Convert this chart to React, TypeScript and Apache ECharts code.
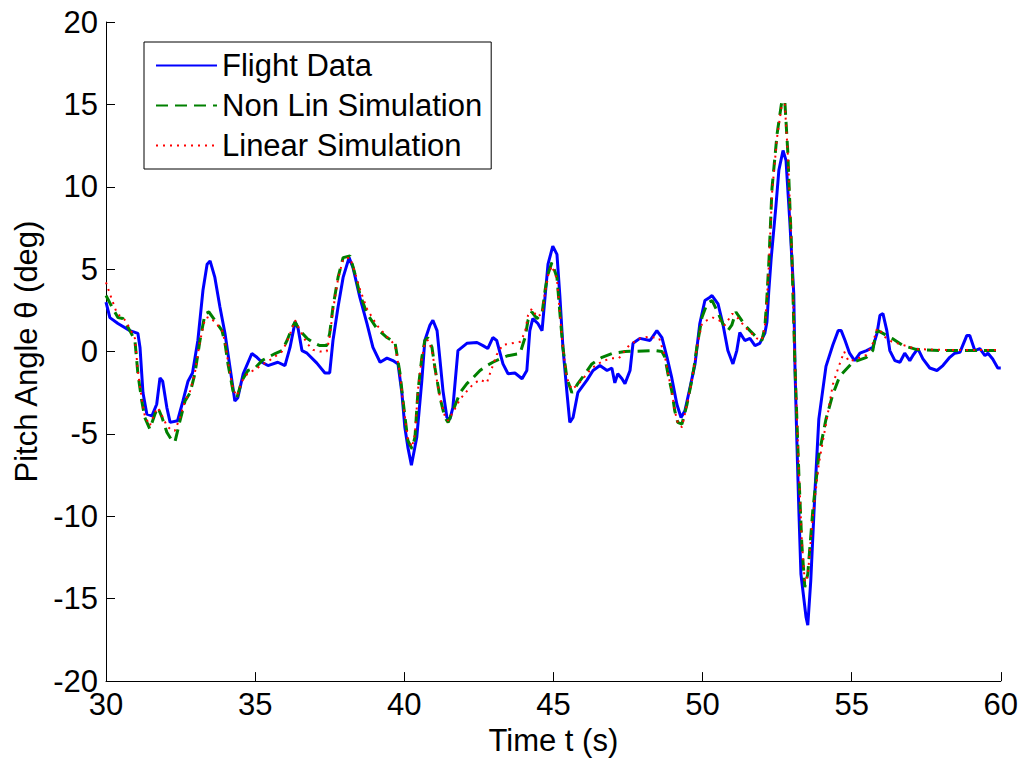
import React, { useEffect, useRef } from "react";
import * as echarts from "echarts";

const xTicks = { min: 30, max: 60, interval: 5 };
const yTicks = { min: -20, max: 20, interval: 5 };

const seriesNames = ["Flight Data", "Non Lin Simulation", "Linear Simulation"];

const flightT = [
  30.0, 30.13, 30.4, 30.8, 31.07, 31.14, 31.24, 31.37, 31.54, 31.7, 31.81, 31.9, 32.04, 32.15, 32.4, 32.58,
  32.75, 32.9, 33.08, 33.25, 33.39, 33.49, 33.65, 33.82, 33.99, 34.16, 34.32, 34.42, 34.6, 34.89, 35.06,
  35.23, 35.43, 35.76, 36.0, 36.17, 36.34, 36.44, 36.57, 36.74, 37.07, 37.34, 37.5, 37.61, 37.78, 37.95,
  38.15, 38.28, 38.51, 38.75, 38.95, 39.19, 39.42, 39.62, 39.79, 39.92, 40.02, 40.12, 40.24, 40.42, 40.59,
  40.69, 40.86, 40.96, 41.1, 41.2, 41.3, 41.43, 41.53, 41.63, 41.8, 42.1, 42.44, 42.64, 42.8, 42.97, 43.1,
  43.31, 43.48, 43.71, 43.95, 44.11, 44.21, 44.31, 44.48, 44.62, 44.72, 44.82, 44.98, 45.12, 45.22, 45.32,
  45.45, 45.55, 45.66, 45.82, 46.12, 46.33, 46.56, 46.8, 46.96, 47.06, 47.16, 47.3, 47.4, 47.57, 47.67,
  47.9, 48.24, 48.47, 48.64, 48.81, 48.97, 49.14, 49.28, 49.41, 49.58, 49.75, 49.91, 50.08, 50.25, 50.32,
  50.52, 50.68, 50.85, 51.02, 51.15, 51.25, 51.42, 51.59, 51.76, 51.92, 52.09, 52.16, 52.22, 52.3, 52.46,
  52.56, 52.7, 52.8, 52.93, 53.06, 53.1, 53.16, 53.23, 53.3, 53.47, 53.53, 53.63, 53.77, 53.9, 54.14,
  54.37, 54.55, 54.65, 54.78, 54.93, 55.1, 55.28, 55.5, 55.71, 55.85, 55.95, 56.05, 56.18, 56.28, 56.45,
  56.62, 56.78, 56.95, 57.05, 57.22, 57.39, 57.62, 57.86, 58.06, 58.29, 58.46, 58.63, 58.86, 58.96, 59.13,
  59.3, 59.47, 59.57, 59.73, 59.9, 60.0,
];
const flightTheta = [
  3.0, 2.06, 1.7, 1.27, 1.1, 0.25, -2.5, -3.8, -3.9, -3.2, -1.6, -1.8, -3.4, -4.3, -4.2, -3.0,
  -1.8, -1.3, 0.67, 3.7, 5.3, 5.5, 4.5, 2.7, 1.1, -1.0, -3.0, -2.8, -1.35, -0.12, -0.35,
  -0.65, -0.85, -0.65, -0.85, 0.25, 1.8, 1.4, 0.06, -0.1, -0.7, -1.3, -1.3, 0.67, 2.7, 4.5,
  5.7, 5.1, 3.3, 1.7, 0.25, -0.65, -0.4, -0.55, -0.75, -2.5, -4.6, -5.8, -6.9, -5.2, -1.75,
  0.67, 1.6, 1.9, 1.27, -0.55, -2.4, -4.0, -4.1, -3.4, 0.06, 0.5, 0.55, 0.36, 0.18, 0.85, 0.67,
  -0.75, -1.35, -1.3, -1.65, -1.15, 1.27, 2.0, 1.7, 1.27, 3.3, 5.3, 6.4, 5.9, 3.3, 0.25,
  -2.4, -4.3, -4.0, -2.5, -1.75, -1.15, -0.85, -1.15, -1.0, -1.9, -1.35, -1.65, -1.95, -1.15, 0.5,
  0.8, 0.67, 1.27, 0.85, -0.35, -1.6, -3.2, -4.0, -3.6, -2.2, -0.75, 1.7, 3.1, 3.3, 3.4,
  2.9, 1.7, 0.06, -0.75, 0.06, 1.15, 0.67, 0.8, 0.36, 0.5, 1.1, 1.8, 3.6, 5.6, 8.8,
  11.0, 12.2, 11.6, 7.8, 3.5, -0.9, -5.2, -9.6, -13.5, -16.1, -16.6, -13.9, -8.5, -4.1, -0.9,
  0.4, 1.27, 1.27, 0.67, -0.1, -0.55, -0.1, 0.06, 0.25, 1.1, 2.2, 2.3, 1.27, 0.06, -0.55,
  -0.65, -0.1, -0.55, -0.25, 0.18, -0.45, -1.0, -1.15, -0.85, -0.35, -0.1, -0.05, 0.97, 0.97, 0.06,
  0.18, -0.25, -0.1, -0.45, -1.0, -1.0,
];

const nonLinT = [
  30.0, 30.2, 30.4, 30.57, 30.8, 30.97, 31.07, 31.2, 31.3, 31.47, 31.64, 31.74, 31.88, 32.04, 32.21, 32.31,
  32.48, 32.65, 32.82, 32.98, 33.15, 33.32, 33.45, 33.65, 33.89, 33.99, 34.09, 34.26, 34.39, 34.56, 34.76,
  35.0, 35.23, 35.43, 35.67, 35.9, 36.07, 36.24, 36.34, 36.5, 36.74, 36.94, 37.17, 37.4, 37.5, 37.61,
  37.78, 37.95, 38.18, 38.35, 38.51, 38.75, 39.08, 39.42, 39.69, 39.86, 39.96, 40.12, 40.26, 40.36, 40.46,
  40.59, 40.69, 40.79, 40.93, 41.03, 41.2, 41.36, 41.47, 41.63, 41.87, 42.1, 42.3, 42.54, 42.77, 42.97,
  43.2, 43.48, 43.88, 44.05, 44.15, 44.28, 44.45, 44.62, 44.72, 44.82, 44.95, 45.12, 45.22, 45.32, 45.45,
  45.62, 45.82, 46.06, 46.29, 46.63, 46.96, 47.4, 48.4, 48.64, 48.74, 48.84, 48.97, 49.07, 49.17, 49.31,
  49.48, 49.64, 49.72, 49.81, 49.98, 50.15, 50.32, 50.48, 50.68, 50.85, 50.98, 51.12, 51.25, 51.42, 51.59,
  51.82, 51.99, 52.09, 52.16, 52.23, 52.33, 52.5, 52.66, 52.76, 52.86, 53.0, 53.1, 53.23, 53.33, 53.43,
  53.53, 53.7, 53.9, 54.14, 54.37, 54.6, 55.04, 55.5, 55.71, 55.81, 55.88, 56.05, 56.35, 56.72, 57.19,
  57.96, 60.0,
];
const nonLinTheta = [
  3.4, 2.7, 2.06, 2.0, 1.27, 0.67, -1.35, -3.0, -4.0, -4.7, -3.8, -3.4, -4.0, -4.9, -5.4, -5.5,
  -4.2, -3.0, -2.5, -1.35, 0.67, 2.3, 2.4, 1.9, 1.27, 0.5, -0.75, -2.4, -2.8, -1.75, -1.15,
  -1.0, -0.55, -0.35, -0.12, 0.06, 0.67, 1.45, 1.8, 1.27, 0.8, 0.55, 0.36, 0.36, 1.1, 2.7,
  4.5, 5.7, 5.8, 4.7, 3.5, 2.3, 1.4, 0.85, 0.55, -1.35, -3.0, -5.4, -5.9, -5.2, -2.4,
  -0.35, 0.67, 0.85, 0.25, -1.0, -2.8, -4.0, -4.3, -3.6, -2.5, -1.95, -1.6, -1.15, -0.85, -0.65,
  -0.45, -0.25, -0.12, 0.85, 1.9, 2.4, 2.0, 2.3, 3.7, 4.7, 5.4, 4.5, 2.3, 0.25, -1.6,
  -2.5, -1.95, -1.35, -0.75, -0.35, -0.12, 0.0, 0.06, 0.0, -0.35, -1.35, -2.4, -3.6, -4.3, -4.4,
  -3.2, -1.75, -0.9, 0.25, 2.06, 2.9, 3.1, 2.5, 1.7, 1.27, 1.6, 2.4, 2.06, 1.6, 1.27,
  0.85, 0.67, 1.45, 3.3, 5.6, 9.9, 13.2, 15.2, 15.2, 12.1, 5.6, -0.9, -7.4, -11.7, -14.3,
  -13.5, -9.6, -6.3, -4.1, -2.6, -1.5, -0.65, -0.35, 0.06, 1.1, 1.27, 1.1, 0.8, 0.36, 0.12,
  0.06, 0.06,
];

const linearT = [
  30.0, 30.13, 30.37, 30.6, 30.8, 30.97, 31.07, 31.2, 31.3, 31.47, 31.64, 31.74, 31.88, 32.04, 32.21, 32.31,
  32.48, 32.65, 32.82, 32.98, 33.15, 33.32, 33.45, 33.65, 33.89, 33.99, 34.09, 34.26, 34.39, 34.56, 34.76,
  35.0, 35.23, 35.43, 35.67, 35.9, 36.07, 36.24, 36.34, 36.5, 36.74, 36.94, 37.17, 37.4, 37.5, 37.61,
  37.78, 37.95, 38.18, 38.35, 38.51, 38.75, 39.08, 39.42, 39.69, 39.86, 39.96, 40.12, 40.26, 40.36, 40.46,
  40.59, 40.69, 40.79, 40.93, 41.03, 41.2, 41.36, 41.47, 41.63, 41.87, 42.1, 42.3, 42.54, 42.77, 42.9,
  43.1, 43.3, 43.6, 43.9, 44.05, 44.15, 44.28, 44.45, 44.62, 44.72, 44.82, 44.95, 45.12, 45.22, 45.32,
  45.45, 45.62, 45.82, 46.06, 46.29, 46.63, 46.96, 47.2, 47.55, 47.9, 48.2, 48.55, 48.74, 48.84, 48.97,
  49.07, 49.17, 49.31, 49.48, 49.64, 49.81, 49.98, 50.15, 50.35, 50.55, 50.75, 51.0, 51.2, 51.42, 51.59,
  51.82, 51.99, 52.09, 52.16, 52.23, 52.33, 52.5, 52.66, 52.76, 52.86, 53.0, 53.1, 53.23, 53.33, 53.43,
  53.53, 53.7, 53.9, 54.14, 54.37, 54.55, 54.75, 54.9, 55.1, 55.5, 55.71, 55.85, 55.95, 56.1, 56.35,
  56.72, 57.19, 58.0, 60.0,
];
const linearTheta = [
  4.2, 3.5, 2.3, 2.0, 1.4, 0.8, -1.2, -2.9, -3.9, -4.5, -3.7, -3.4, -3.9, -4.5, -4.8, -4.8,
  -4.0, -3.0, -2.4, -1.3, 0.6, 2.0, 2.1, 1.8, 1.3, 0.6, -0.6, -2.3, -2.7, -1.8, -1.3,
  -1.1, -0.8, -0.6, -0.3, 0.0, 0.6, 1.4, 1.9, 1.3, 0.5, 0.1, 0.0, 0.0, 0.9, 2.5,
  4.4, 5.6, 5.7, 4.8, 3.8, 2.6, 1.6, 0.9, 0.4, -1.4, -3.1, -5.3, -5.8, -5.0, -2.3,
  -0.4, 0.5, 0.7, 0.1, -1.1, -2.8, -3.9, -4.2, -3.7, -2.9, -2.4, -2.0, -1.7, -1.9, -1.2,
  -0.2, 0.4, 0.5, 0.6, 1.2, 2.2, 2.6, 2.1, 2.3, 3.6, 4.6, 5.2, 4.4, 2.3, 0.2,
  -1.6, -2.3, -2.0, -1.5, -1.0, -0.6, -0.4, -0.4, 0.4, 0.8, 0.9, 0.8, -0.3, -1.3, -2.4,
  -3.6, -4.3, -4.6, -3.2, -1.8, 0.2, 1.7, 1.9, 2.06, 1.9, 1.6, 2.3, 2.0, 1.5, 1.2,
  0.8, 0.7, 1.5, 3.2, 5.4, 9.6, 13.0, 15.0, 15.0, 12.0, 5.8, -0.7, -7.2, -11.5, -14.0,
  -13.6, -10.0, -6.8, -4.4, -2.0, -1.0, 0.0, -0.6, -0.5, -0.2, 0.5, 1.4, 1.3, 0.9, 0.6,
  0.4, 0.15, 0.1, 0.1,
];

const pairs = (t: number[], v: number[]) => t.map((x, i) => [x, v[i]]);

const FONT = "'Liberation Sans', Arial, Helvetica, sans-serif";
const FS = 31;

export default function App() {
  const ref = useRef<HTMLDivElement>(null);
  useEffect(() => {
    if (!ref.current) return;
    const chart = echarts.init(ref.current, undefined, { renderer: "svg" });
    const axisCommon = {
      axisLine: { show: true, onZero: false, lineStyle: { color: "#000", width: 1 } },
      axisTick: { show: true, inside: true, length: 9, lineStyle: { color: "#000", width: 1 } },
      splitLine: { show: false },
      axisLabel: { color: "#000", fontSize: FS, fontFamily: FONT, margin: 8 },
      nameTextStyle: { color: "#000", fontSize: FS, fontFamily: FONT },
    };
    chart.setOption({
      animation: false,
      backgroundColor: "#fff",
      grid: { left: 106, right: 20, top: 22, bottom: 79, containLabel: false },
      xAxis: {
        type: "value",
        min: xTicks.min,
        max: xTicks.max,
        interval: xTicks.interval,
        name: "Time t (s)",
        nameLocation: "middle",
        nameGap: 40,
        ...axisCommon,
      },
      yAxis: {
        type: "value",
        min: yTicks.min,
        max: yTicks.max,
        interval: yTicks.interval,
        name: "Pitch Angle θ (deg)",
        nameLocation: "middle",
        nameGap: 60,
        ...axisCommon,
      },
      legend: {
        show: true,
        orient: "vertical",
        left: 144,
        top: 42,
        data: seriesNames,
        itemWidth: 61,
        itemHeight: 28,
        itemGap: 9,
        padding: [8, 9, 8, 11],
        borderColor: "#000",
        borderWidth: 1,
        backgroundColor: "#fff",
        itemStyle: { color: "rgba(0,0,0,0)", borderWidth: 0, opacity: 0 },
        textStyle: { color: "#000", fontSize: FS, fontFamily: FONT },
        selectedMode: false,
      },
      series: [
        {
          name: seriesNames[0],
          type: "line",
          data: pairs(flightT, flightTheta),
          symbol: "none",
          showSymbol: false,
          smooth: false,
          lineStyle: { color: "#0000ff", width: 3, type: "solid" },
          itemStyle: { color: "#0000ff" },
          z: 2,
        },
        {
          name: seriesNames[1],
          type: "line",
          data: pairs(nonLinT, nonLinTheta),
          symbol: "none",
          showSymbol: false,
          lineStyle: { color: "#008000", width: 3, type: [12, 7] },
          itemStyle: { color: "#008000" },
          z: 3,
        },
        {
          name: seriesNames[2],
          type: "line",
          data: pairs(linearT, linearTheta),
          symbol: "none",
          showSymbol: false,
          lineStyle: { color: "#ff0000", width: 2, type: [2, 5] },
          itemStyle: { color: "#ff0000" },
          z: 4,
        },
      ],
    });
    return () => chart.dispose();
  }, []);
  return (
    <div
      ref={ref}
      style={{ position: "fixed", left: 0, top: 0, width: 1021, height: 761, background: "#fff" }}
    />
  );
}
